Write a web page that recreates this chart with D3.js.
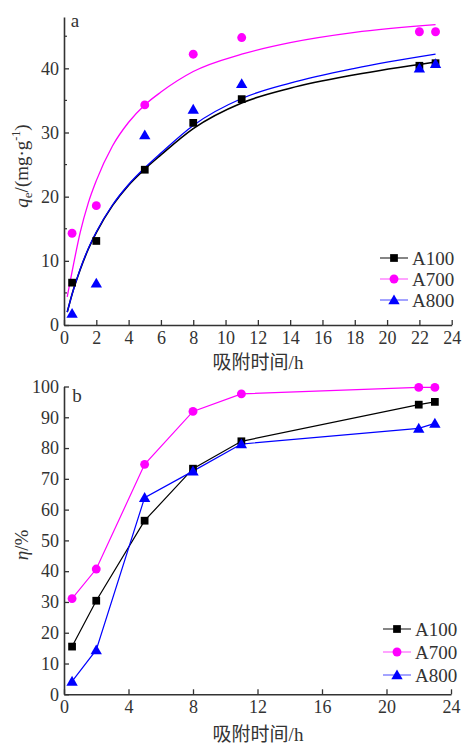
<!DOCTYPE html>
<html>
<head>
<meta charset="utf-8">
<script src="https://cdn.jsdelivr.net/npm/d3@7"></script>
<style>
  body { margin: 0; background: #fff; }
  text { font-family: "Liberation Serif", "Times New Roman", Times, "Noto Sans CJK SC", serif; fill: #333; }
</style>
</head>
<body>
<div id="chart"></div>
<script>
// sampling times (h)
var timeH = [0.5, 2, 5, 8, 11, 22, 23];

// panel a: adsorbed amount qe (mg/g)
var qeA100 = [6.6, 13.1, 24.2, 31.5, 35.2, 40.4, 40.8];
var qeA700 = [14.3, 18.6, 34.3, 42.2, 44.8, 45.7, 45.7];
var qeA800 = [1.8, 6.5, 29.6, 33.6, 37.6, 40.0, 40.7];

// fitted curves in panel a
var fitT    = [0.2, 0.5, 1, 1.5, 2, 3, 4, 5, 6, 8, 11, 14, 18, 23];
var fitA100 = [2.0, 4.8, 8.6, 11.8, 14.4, 18.6, 21.8, 24.3, 26.5, 30.6, 34.6, 36.9, 39.0, 41.0];
var fitA700 = [4.4, 8.3, 14.4, 19.0, 22.5, 27.9, 31.6, 34.3, 36.3, 39.5, 42.2, 44.0, 45.6, 46.8];
var fitA800 = [2.0, 4.8, 8.7, 11.9, 14.5, 18.7, 21.9, 24.5, 26.8, 31.1, 35.3, 37.7, 40.0, 42.2];

// panel b: removal rate eta (%)
var etaA100 = [15.5, 30.4, 56.4, 73.3, 82.2, 94.1, 95.0];
var etaA700 = [31.1, 40.7, 74.7, 91.9, 97.6, 99.7, 99.7];
var etaA800 = [4.2, 14.4, 63.9, 72.5, 81.3, 86.4, 88.0];

var seriesNames = ["A100", "A700", "A800"];
var colors = ["#000000", "#ff00ff", "#0000ff"];
var symbols = [d3.symbolSquare, d3.symbolCircle, d3.symbolTriangle];
var symSizes = [60, 62, 56];

var xTicksA = [0, 2, 4, 6, 8, 10, 12, 14, 16, 18, 20, 22, 24];
var yTicksA = [0, 10, 20, 30, 40];
var yMinorA = [5, 15, 25, 35, 45];
var xTicksB = [0, 4, 8, 12, 16, 20, 24];
var yTicksB = [0, 10, 20, 30, 40, 50, 60, 70, 80, 90, 100];

var serif = "'Liberation Serif', 'Times New Roman', Times, 'Noto Sans CJK SC', serif";

var W = 463, H = 749;
var svg = d3.select("#chart").append("svg")
    .attr("width", W)
    .attr("height", H)
    .style("font-family", serif);

function drawAxes(g, x, y, xt, yt, yminor) {
  var xa = g.append("g")
      .attr("transform", "translate(0," + y.range()[0] + ")")
      .call(d3.axisBottom(x).tickValues(xt).tickSize(-5).tickSizeOuter(0).tickPadding(6));
  var ya = g.append("g")
      .attr("transform", "translate(" + x.range()[0] + ",0)")
      .call(d3.axisLeft(y).tickValues(yt).tickSize(-5).tickSizeOuter(0).tickPadding(5));
  [xa, ya].forEach(function (a) {
    a.attr("font-family", serif);
    a.select(".domain").attr("stroke", "#333").attr("stroke-width", 1.6);
    a.selectAll(".tick line").attr("stroke", "#333").attr("stroke-width", 1.3);
    a.selectAll(".tick text").attr("font-size", 18).attr("fill", "#333");
  });
  if (yminor) {
    g.selectAll(".yminor").data(yminor).enter().append("line")
      .attr("x1", x.range()[0]).attr("x2", x.range()[0] + 3)
      .attr("y1", function (d) { return y(d); })
      .attr("y2", function (d) { return y(d); })
      .attr("stroke", "#333").attr("stroke-width", 1.2);
  }
}

function drawMarkers(g, x, y, vals, i) {
  g.append("g").selectAll("path").data(vals).enter().append("path")
    .attr("d", d3.symbol().type(symbols[i]).size(symSizes[i]))
    .attr("transform", function (d, k) {
      var dy = i === 2 ? 1 : 0;
      return "translate(" + x(timeH[k]) + "," + (y(d) + dy) + ")";
    })
    .attr("fill", colors[i]);
}

function drawLegend(g, x0, y0, step) {
  seriesNames.forEach(function (name, i) {
    var yy = y0 + i * step;
    g.append("line").attr("x1", x0).attr("x2", x0 + 28)
      .attr("y1", yy).attr("y2", yy)
      .attr("stroke", colors[i]).attr("stroke-width", 1.2)
      .attr("stroke-opacity", i === 0 ? 0.8 : 0.6);
    g.append("path")
      .attr("d", d3.symbol().type(symbols[i]).size(symSizes[i]))
      .attr("transform", "translate(" + (x0 + 14) + "," + (yy + (i === 2 ? 1 : 0)) + ")")
      .attr("fill", colors[i]);
    g.append("text").attr("x", x0 + 32).attr("y", yy + 6.5)
      .attr("font-size", 19).attr("fill", "#222").text(name);
  });
}

// ---------- panel a ----------
var ga = svg.append("g");
var xa = d3.scaleLinear().domain([0, 24]).range([64, 451.7]);
var ya = d3.scaleLinear().domain([0, 48]).range([325, 17]);

var fits = [fitA100, fitA700, fitA800];
[0, 2, 1].forEach(function (i) {
  var line = d3.line()
      .x(function (d, k) { return xa(fitT[k]); })
      .y(function (d) { return ya(d); })
      .curve(d3.curveMonotoneX);
  ga.append("path").datum(fits[i])
    .attr("d", line)
    .attr("fill", "none")
    .attr("stroke", colors[i])
    .attr("stroke-width", i === 0 ? 1.6 : 1.3);
});

drawAxes(ga, xa, ya, xTicksA, yTicksA, yMinorA);

[qeA100, qeA700, qeA800].forEach(function (vals, i) {
  drawMarkers(ga, xa, ya, vals, i);
});

drawLegend(ga, 380, 258, 21);

ga.append("text").attr("x", 75).attr("y", 27).attr("font-size", 19)
  .attr("text-anchor", "middle").attr("fill", "#222").text("a");

ga.append("text").attr("x", 258).attr("y", 369).attr("font-size", 19)
  .attr("text-anchor", "middle").attr("fill", "#222").text("吸附时间/h");

var ttlA = ga.append("text")
  .attr("transform", "translate(28,166) rotate(-90)")
  .attr("text-anchor", "middle").attr("font-size", 19).attr("fill", "#222");
ttlA.append("tspan").attr("font-style", "italic").text("q");
ttlA.append("tspan").attr("font-size", 13).attr("dy", 4).text("e");
ttlA.append("tspan").attr("dy", -4).text("/(mg·g");
ttlA.append("tspan").attr("font-size", 12).attr("dy", -8).text("-1");
ttlA.append("tspan").attr("dy", 8).text(")");

// ---------- panel b ----------
var gb = svg.append("g");
var xb = d3.scaleLinear().domain([0, 24]).range([64, 451]);
var yb = d3.scaleLinear().domain([0, 100]).range([694.3, 386.5]);

drawAxes(gb, xb, yb, xTicksB, yTicksB, null);

[etaA100, etaA700, etaA800].forEach(function (vals, i) {
  var line = d3.line()
      .x(function (d, k) { return xb(timeH[k]); })
      .y(function (d) { return yb(d); });
  gb.append("path").datum(vals)
    .attr("d", line)
    .attr("fill", "none")
    .attr("stroke", colors[i])
    .attr("stroke-width", 1.2);
});
[etaA100, etaA700, etaA800].forEach(function (vals, i) {
  drawMarkers(gb, xb, yb, vals, i);
});

drawLegend(gb, 383, 629, 23);

gb.append("text").attr("x", 77).attr("y", 402).attr("font-size", 19)
  .attr("text-anchor", "middle").attr("fill", "#222").text("b");

gb.append("text").attr("x", 258).attr("y", 741).attr("font-size", 19)
  .attr("text-anchor", "middle").attr("fill", "#222").text("吸附时间/h");

var ttlB = gb.append("text")
  .attr("transform", "translate(28,545) rotate(-90)")
  .attr("text-anchor", "middle").attr("font-size", 19).attr("fill", "#222");
ttlB.append("tspan").attr("font-style", "italic").text("η");
ttlB.append("tspan").text("/%");
</script>
</body>
</html>
